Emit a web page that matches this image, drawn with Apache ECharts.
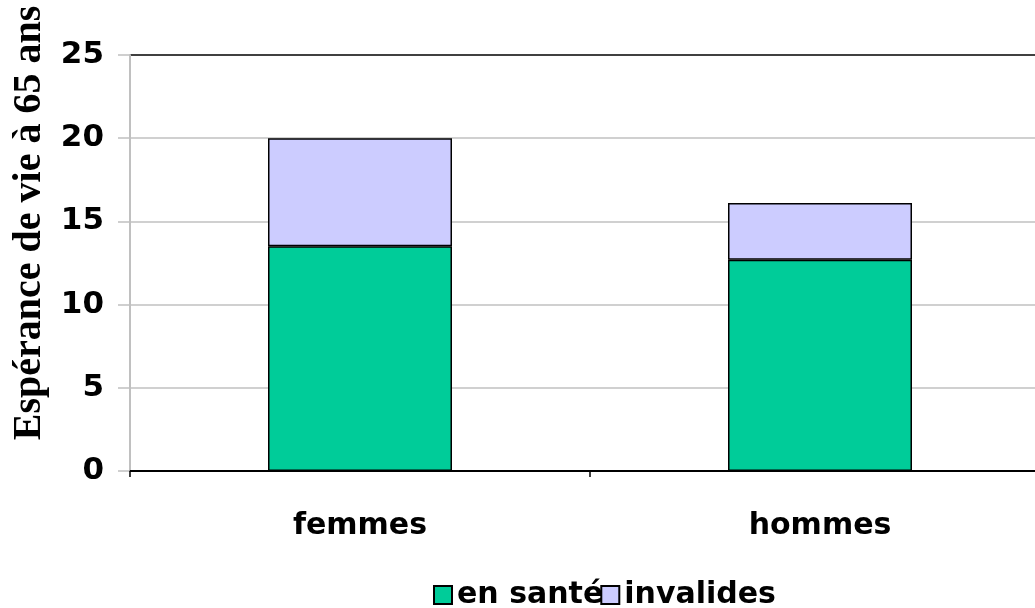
<!DOCTYPE html>
<html>
<head>
<meta charset="utf-8">
<script src="https://cdn.jsdelivr.net/npm/echarts@6/dist/echarts.min.js"></script>
<style>
html,body{margin:0;padding:0;background:#fff;overflow:hidden;width:1035px;height:608px;}
#chart{width:1052px;height:608px;}
</style>
</head>
<body>
<div id="chart"></div>
<script>
var categories = ['femmes', 'hommes'];
var enSante = [13.5, 12.7];
var invalides = [6.5, 3.4];
var seriesNames = ['en santé', 'invalides'];
var yTicks = [0, 5, 10, 15, 20, 25];
var yTitle = 'Espérance de vie à 65 ans';

var chart = echarts.init(document.getElementById('chart'));
var font = 'DejaVu Sans';
chart.setOption({
  animation: false,
  backgroundColor: '#fff',
  grid: { left: 130, top: 55, bottom: 137, right: 2, containLabel: false },
  legend: {
    data: seriesNames,
    left: 428,
    top: 575,
    itemWidth: 18,
    itemHeight: 18,
    itemGap: -3,
    itemTextGap: 6,
    icon: 'rect',
    textStyle: { fontFamily: font, fontWeight: 'bold', fontSize: 30, color: '#000' }
  },
  xAxis: {
    type: 'category',
    data: categories,
    axisLine: { lineStyle: { color: '#000', width: 2 } },
    axisTick: { show: true, length: 6, lineStyle: { color: '#000', width: 1.5 } },
    axisLabel: { margin: 40, fontFamily: font, fontWeight: 'bold', fontSize: 30, color: '#000' },
    splitLine: { show: false }
  },
  yAxis: {
    type: 'value',
    min: 0, max: 25, interval: 5,
    axisLine: { show: true, lineStyle: { color: '#c0c0c0', width: 2 } },
    axisTick: { show: true, length: 12, lineStyle: { color: '#c0c0c0', width: 1.5 } },
    axisLabel: {
      margin: 26, fontFamily: font, fontWeight: 'bold', fontSize: 31, color: '#000',
      formatter: function (v) { return yTicks.indexOf(v) >= 0 ? String(v) : ''; }
    },
    splitLine: { show: true, lineStyle: { color: ['#c0c0c0', '#c0c0c0', '#c0c0c0', '#c0c0c0', '#c0c0c0', '#000'], width: 1.5 } }
  },
  graphic: [{
    type: 'text',
    x: 30, y: 223,
    rotation: Math.PI / 2,
    style: {
      text: yTitle,
      fontFamily: 'Liberation Serif',
      fontWeight: 'bold',
      fontSize: 40,
      fill: '#000',
      textAlign: 'center',
      textVerticalAlign: 'middle'
    }
  }],
  series: [
    {
      name: seriesNames[0], type: 'bar', stack: 'total', data: enSante, barWidth: 184,
      itemStyle: { color: '#00CC99', borderColor: '#000', borderWidth: 1.5 }
    },
    {
      name: seriesNames[1], type: 'bar', stack: 'total', data: invalides, barWidth: 184,
      itemStyle: { color: '#CCCCFF', borderColor: '#000', borderWidth: 1.5 }
    }
  ]
});
</script>
</body>
</html>
